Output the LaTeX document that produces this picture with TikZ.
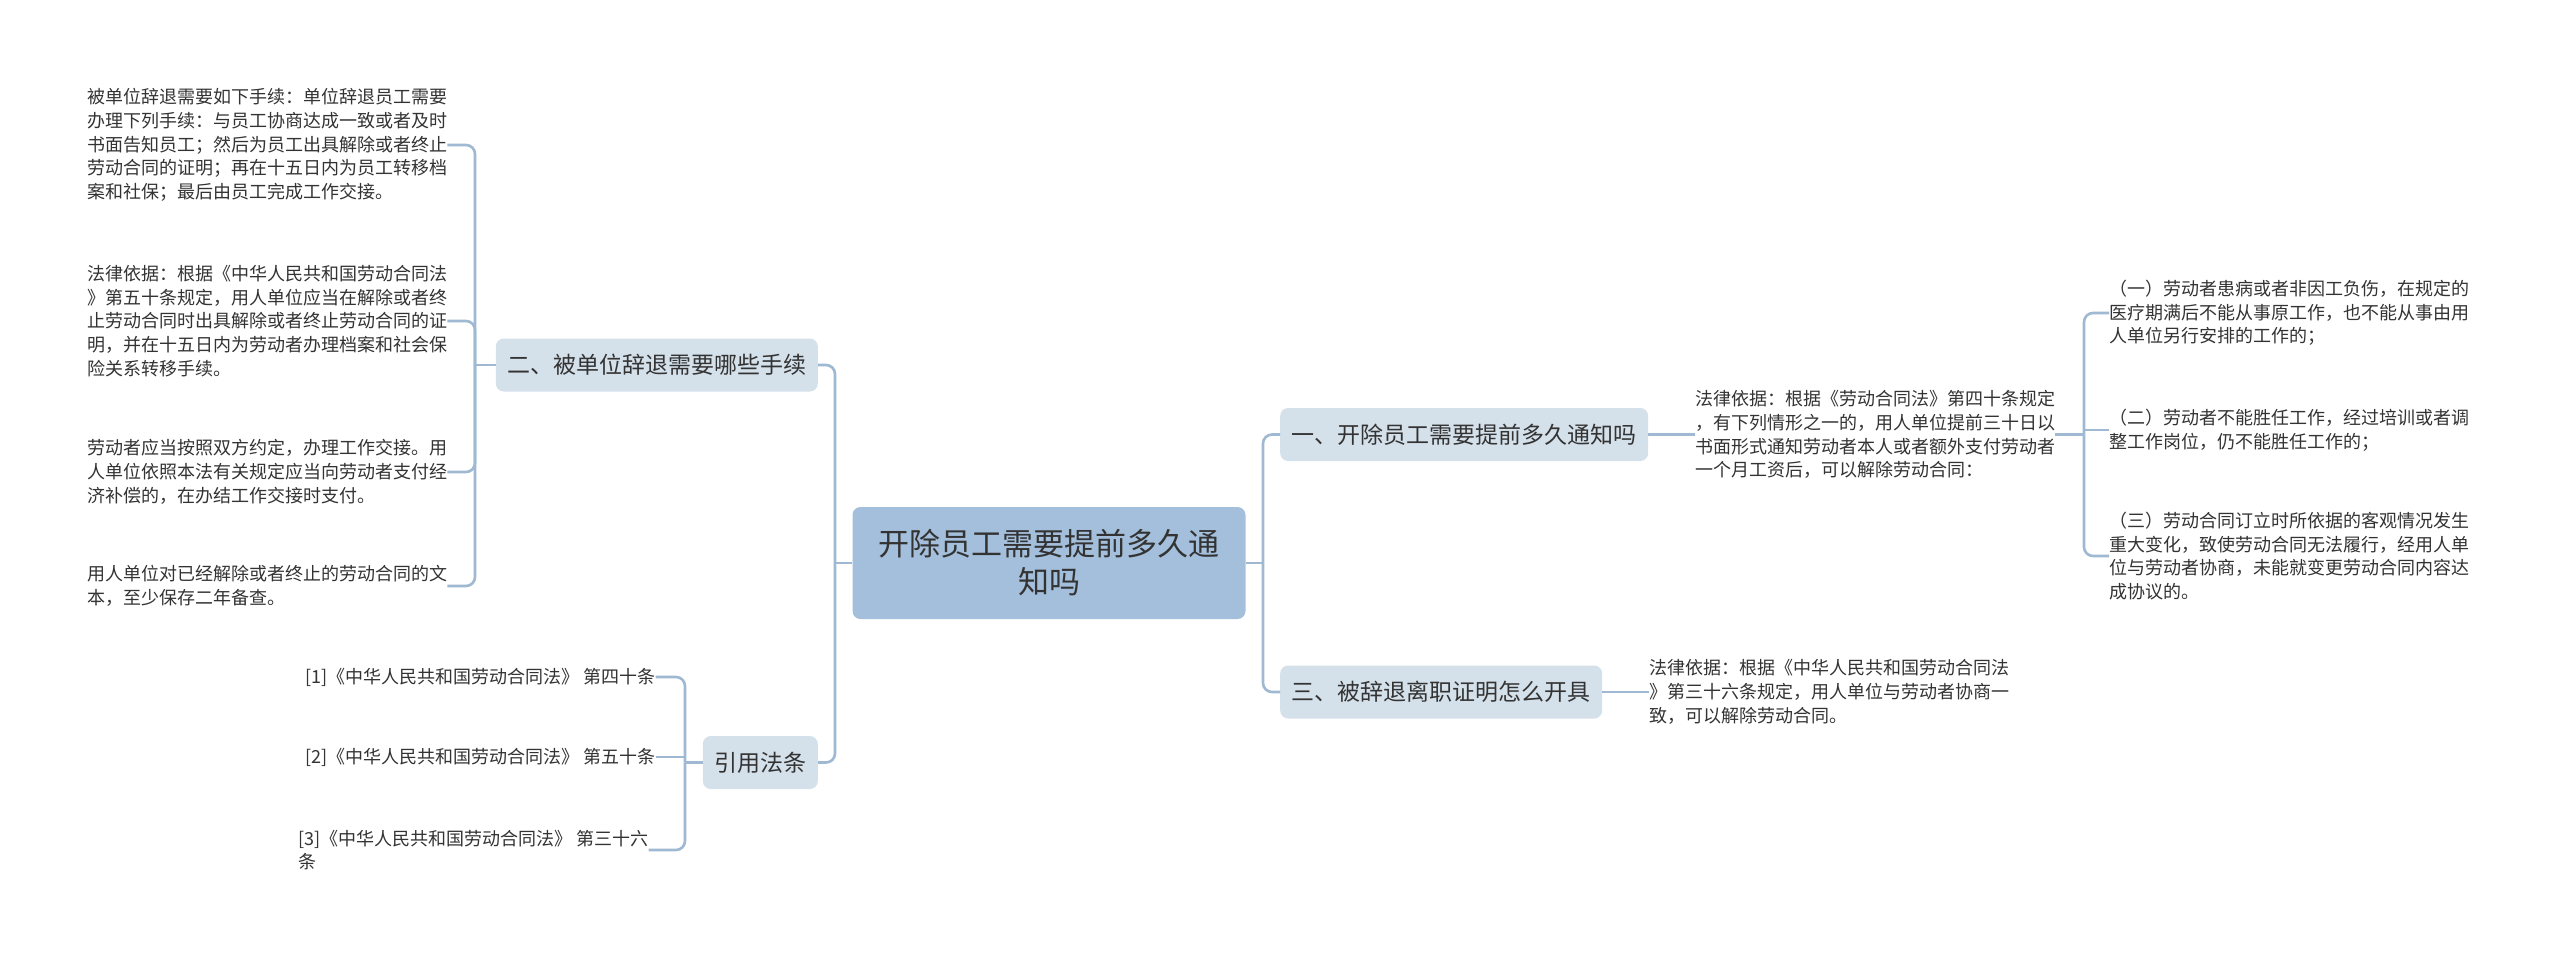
\documentclass[tikz,border=0pt]{standalone}
\usepackage{fontspec}
\newfontfamily\cjk{Noto Sans CJK SC}
\definecolor{rootfill}{HTML}{A3BFDB}
\definecolor{lvlfill}{HTML}{D4E0EA}
\definecolor{linec}{HTML}{9FB9D3}
\definecolor{txt}{HTML}{333333}
\begin{document}
\begin{tikzpicture}[x=1pt,y=-1pt,
  base/.style={text=txt, inner sep=0pt},
  small/.style={base, align=left, font={\cjk\fontsize{18}{23.7}\selectfont}},
  rootbox/.style={base, fill=rootfill, rounded corners=8pt, minimum width=393pt, minimum height=112pt, align=center, font={\cjk\fontsize{31}{38}\selectfont}},
  lvl/.style={base, fill=lvlfill, rounded corners=8pt, minimum height=53pt, inner xsep=11.5pt, font={\cjk\fontsize{23}{28}\selectfont}},
  conn/.style={draw=linec, line width=2.6pt, rounded corners=9pt}]
\useasboundingbox[fill=white] (0,0) rectangle (2560,959);

% root and first level
\node[rootbox] (root) at (1049,563) {开除员工需要提前多久通\\知吗};
\node[lvl, anchor=west] (n1) at (1280,434.5) {一、开除员工需要提前多久通知吗};
\node[lvl, anchor=west] (n3) at (1280,692) {三、被辞退离职证明怎么开具};
\node[lvl, anchor=east] (n2) at (818,365) {二、被单位辞退需要哪些手续};
\node[lvl, anchor=east] (n4) at (818,762.5) {引用法条};

% left texts of 二
\node[small, anchor=west] (t1) at (87,145) {被单位辞退需要如下手续：单位辞退员工需要\\办理下列手续：与员工协商达成一致或者及时\\书面告知员工；然后为员工出具解除或者终止\\劳动合同的证明；再在十五日内为员工转移档\\案和社保；最后由员工完成工作交接。};
\node[small, anchor=west] (t2) at (87,321) {法律依据：根据《中华人民共和国劳动合同法\\》第五十条规定，用人单位应当在解除或者终\\止劳动合同时出具解除或者终止劳动合同的证\\明，并在十五日内为劳动者办理档案和社会保\\险关系转移手续。};
\node[small, anchor=west] (t3) at (87,472) {劳动者应当按照双方约定，办理工作交接。用\\人单位依照本法有关规定应当向劳动者支付经\\济补偿的，在办结工作交接时支付。};
\node[small, anchor=west] (t4) at (87,586) {用人单位对已经解除或者终止的劳动合同的文\\本，至少保存二年备查。};

% references
\node[small, anchor=west] (r1) at (305,677) {[1]《中华人民共和国劳动合同法》 第四十条};
\node[small, anchor=west] (r2) at (305,757) {[2]《中华人民共和国劳动合同法》 第五十条};
\node[small, anchor=west] (r3) at (298,850) {[3]《中华人民共和国劳动合同法》 第三十六\\条};

% right texts
\node[small, anchor=west] (a) at (1695,434.5) {法律依据：根据《劳动合同法》第四十条规定\\，有下列情形之一的，用人单位提前三十日以\\书面形式通知劳动者本人或者额外支付劳动者\\一个月工资后，可以解除劳动合同：};
\node[small, anchor=west] (a1) at (2109,313) {（一）劳动者患病或者非因工负伤，在规定的\\医疗期满后不能从事原工作，也不能从事由用\\人单位另行安排的工作的；};
\node[small, anchor=west] (a2) at (2109,430) {（二）劳动者不能胜任工作，经过培训或者调\\整工作岗位，仍不能胜任工作的；};
\node[small, anchor=west] (a3) at (2109,556) {（三）劳动合同订立时所依据的客观情况发生\\重大变化，致使劳动合同无法履行，经用人单\\位与劳动者协商，未能就变更劳动合同内容达\\成协议的。};
\node[small, anchor=west] (b) at (1649,692) {法律依据：根据《中华人民共和国劳动合同法\\》第三十六条规定，用人单位与劳动者协商一\\致，可以解除劳动合同。};

% connectors
\coordinate (jL) at (835,563);
\coordinate (jR) at (1263,563);
\coordinate (jT) at (475,365);
\coordinate (jRef) at (685,762.5);
\coordinate (jA) at (2084,434.5);

\draw[conn] (root.west) -- (jL);
\draw[conn] (jL) |- (n2.east);
\draw[conn] (jL) |- (n4.east);
\draw[conn] (root.east) -- (jR);
\draw[conn] (jR) |- (n1.west);
\draw[conn] (jR) |- (n3.west);

\draw[conn] (n2.west) -- (jT);
\draw[conn] (jT) |- (t1.east);
\draw[conn] (jT) |- (t2.east);
\draw[conn] (jT) |- (t3.east);
\draw[conn] (jT) |- (t4.east);

\draw[conn] (n4.west) -- (jRef);
\draw[conn] (jRef) |- (r1.east);
\draw[conn] (r2.east) -- (r2.east -| jRef);
\draw[conn] (jRef) |- (r3.east);

\draw[conn] (n1.east) -- (a.west);
\draw[conn] (n3.east) -- (b.west);
\draw[conn] (a.east) -- (jA);
\draw[conn] (jA) |- (a1.west);
\draw[conn] (a2.west) -- (a2.west -| jA);
\draw[conn] (jA) |- (a3.west);
\end{tikzpicture}
\end{document}
